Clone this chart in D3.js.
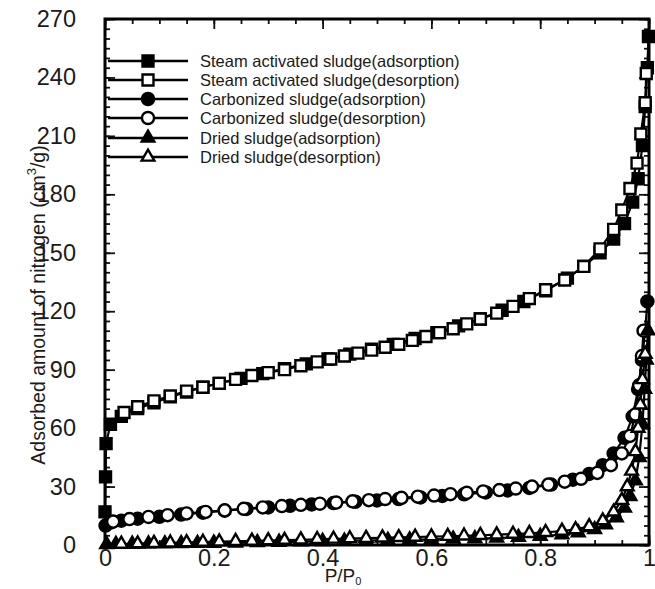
<!DOCTYPE html>
<html>
<head>
<meta charset="utf-8">
<script src="https://cdn.jsdelivr.net/npm/d3@7"></script>
<style>
  html, body { margin: 0; padding: 0; background: #fff; }
  svg { display: block; }
  text { font-family: "Liberation Sans", Arial, sans-serif; fill: #1a1a1a; }
</style>
</head>
<body>
<svg id="chart" width="655" height="589"></svg>
<script>
// Nitrogen adsorption/desorption isotherms, P/P0 vs adsorbed amount (cm3/g)
const steamAds = [[0.0,17],[0.001,35],[0.002,52],[0.01,62],[0.03,66],[0.06,70],[0.09,73],[0.12,76],[0.15,78.5],[0.18,81],[0.21,83],[0.25,85.5],[0.29,88],[0.33,90.5],[0.37,93],[0.41,95.5],[0.45,98],[0.49,100.5],[0.53,103],[0.57,106],[0.61,109],[0.65,112.5],[0.69,116],[0.73,120.5],[0.77,125],[0.81,130.5],[0.85,137],[0.88,143],[0.91,150],[0.935,157],[0.955,165],[0.97,176],[0.98,188],[0.988,205],[0.993,225],[0.997,245],[0.999,261]];
const steamDes = [[0.995,242],[0.993,227],[0.985,211],[0.978,196],[0.965,183],[0.95,172],[0.935,162],[0.91,152],[0.88,143],[0.845,136],[0.81,131],[0.78,126.5],[0.75,122.5],[0.72,119],[0.69,116],[0.665,113.5],[0.64,111],[0.615,109],[0.59,107],[0.565,105],[0.54,103],[0.515,101.5],[0.49,100],[0.465,98.5],[0.44,97],[0.415,95.5],[0.39,94],[0.36,92],[0.33,90],[0.3,88.5],[0.27,87],[0.24,85],[0.21,83],[0.18,81],[0.15,79],[0.12,76.5],[0.09,74],[0.06,71],[0.035,68]];
const carbAds = [[0.001,10],[0.01,11.5],[0.03,12.5],[0.06,13.5],[0.1,14.5],[0.14,15.6],[0.18,16.6],[0.22,17.6],[0.26,18.5],[0.3,19.3],[0.34,20.1],[0.38,20.8],[0.42,21.5],[0.46,22.2],[0.5,22.9],[0.54,23.6],[0.58,24.4],[0.62,25.2],[0.66,26],[0.7,27],[0.74,28],[0.78,29.3],[0.82,31],[0.86,33.5],[0.89,36.5],[0.915,41],[0.935,47],[0.955,55],[0.97,66],[0.98,80],[0.987,95],[0.993,110],[0.997,125]];
const carbDes = [[0.99,110],[0.987,97],[0.982,82],[0.975,67],[0.965,56],[0.95,47],[0.93,41],[0.905,37],[0.875,34],[0.845,32.5],[0.815,31],[0.785,30],[0.755,29],[0.725,28.2],[0.695,27.5],[0.665,26.8],[0.635,26.1],[0.605,25.4],[0.575,24.8],[0.545,24.2],[0.515,23.6],[0.485,23],[0.455,22.4],[0.425,21.8],[0.395,21.2],[0.36,20.6],[0.325,20],[0.29,19.3],[0.255,18.6],[0.22,17.8],[0.185,17],[0.15,16.2],[0.115,15.3],[0.08,14.4],[0.045,13.3],[0.015,12]];
const driedAds = [[0.003,0.3],[0.02,0.4],[0.05,0.5],[0.08,0.6],[0.11,0.7],[0.14,0.8],[0.17,0.9],[0.2,1.0],[0.24,1.1],[0.28,1.3],[0.32,1.5],[0.36,1.7],[0.4,1.9],[0.44,2.1],[0.48,2.3],[0.52,2.5],[0.56,2.7],[0.6,2.9],[0.64,3.1],[0.68,3.3],[0.72,3.6],[0.76,4.0],[0.8,4.5],[0.84,5.3],[0.87,6.3],[0.9,8],[0.92,10.5],[0.94,14],[0.955,19],[0.965,25],[0.975,33],[0.982,45],[0.988,62],[0.992,80],[0.995,95],[0.998,110]];
const driedDes = [[0.993,98],[0.988,85],[0.984,72],[0.98,60],[0.975,48],[0.968,38],[0.96,30],[0.95,23],[0.935,17],[0.915,12.5],[0.89,9.5],[0.865,8],[0.84,7.2],[0.81,6.5],[0.78,6],[0.75,5.6],[0.72,5.3],[0.69,5.0],[0.66,4.7],[0.63,4.5],[0.6,4.3],[0.57,4.1],[0.54,3.9],[0.51,3.7],[0.48,3.5],[0.45,3.3],[0.42,3.1],[0.39,2.9],[0.36,2.7],[0.33,2.5],[0.3,2.3],[0.27,2.1],[0.24,1.9],[0.21,1.7],[0.18,1.5],[0.15,1.3],[0.12,1.1],[0.09,0.9],[0.06,0.7],[0.03,0.5]];

const seriesNames = ["Steam activated sludge(adsorption)","Steam activated sludge(desorption)","Carbonized sludge(adsorption)","Carbonized sludge(desorption)","Dried sludge(adsorption)","Dried sludge(desorption)"];
const xTickValues = [0, 0.2, 0.4, 0.6, 0.8, 1];
const xTickLabels = ["0", "0.2", "0.4", "0.6", "0.8", "1"];
const yTickValues = [0, 30, 60, 90, 120, 150, 180, 210, 240, 270];

const series = [
  { name: seriesNames[0], data: steamAds, shape: d3.symbolSquare, fill: "#000", size: 120 },
  { name: seriesNames[1], data: steamDes, shape: d3.symbolSquare, fill: "#fff", size: 120 },
  { name: seriesNames[2], data: carbAds, shape: d3.symbolCircle, fill: "#000", size: 115 },
  { name: seriesNames[3], data: carbDes, shape: d3.symbolCircle, fill: "#fff", size: 115 },
  { name: seriesNames[4], data: driedAds, shape: d3.symbolTriangle, fill: "#000", size: 70 },
  { name: seriesNames[5], data: driedDes, shape: d3.symbolTriangle, fill: "#fff", size: 70 }
];

const svg = d3.select("#chart");
const L = 105, R = 649, T = 19, B = 545;
const x = d3.scaleLinear().domain([0, 1]).range([L, R]);
const y = d3.scaleLinear().domain([0, 270]).range([B, T]);

// axes: major and minor ticks point inward on all four sides
const xMinor = d3.range(0, 1.0001, 0.05).map(v => +v.toFixed(2));
const yMinor = d3.range(0, 271, 5);

function styleAxis(g) {
  g.select(".domain").remove();
  g.selectAll(".tick line").attr("stroke", "#111").attr("stroke-width", 1.8);
}

svg.append("g").attr("transform", `translate(0,${B})`)
  .call(d3.axisBottom(x).tickValues(xMinor).tickSize(-5).tickFormat(""))
  .call(styleAxis);
const xb = svg.append("g").attr("transform", `translate(0,${B})`)
  .call(d3.axisBottom(x).tickValues(xTickValues).tickSize(-10).tickPadding(4)
    .tickFormat((d, i) => xTickLabels[i]))
  .call(styleAxis);
xb.selectAll("text").attr("font-size", 23.5).attr("dy", "0.71em");

svg.append("g").attr("transform", `translate(0,${T})`)
  .call(d3.axisTop(x).tickValues(xMinor).tickSize(-5).tickFormat(""))
  .call(styleAxis);
svg.append("g").attr("transform", `translate(0,${T})`)
  .call(d3.axisTop(x).tickValues(xTickValues).tickSize(-10).tickFormat(""))
  .call(styleAxis);

svg.append("g").attr("transform", `translate(${L},0)`)
  .call(d3.axisLeft(y).tickValues(yMinor).tickSize(-5).tickFormat(""))
  .call(styleAxis);
const yl = svg.append("g").attr("transform", `translate(${L},0)`)
  .call(d3.axisLeft(y).tickValues(yTickValues).tickSize(-10).tickPadding(29).tickFormat(d3.format("d")))
  .call(styleAxis);
yl.selectAll("text").attr("font-size", 23.5);

svg.append("g").attr("transform", `translate(${R},0)`)
  .call(d3.axisRight(y).tickValues(yMinor).tickSize(-5).tickFormat(""))
  .call(styleAxis);
svg.append("g").attr("transform", `translate(${R},0)`)
  .call(d3.axisRight(y).tickValues(yTickValues).tickSize(-10).tickFormat(""))
  .call(styleAxis);

// plot frame
svg.append("rect").attr("x", L).attr("y", T).attr("width", R - L).attr("height", B - T)
  .attr("fill", "none").attr("stroke", "#000").attr("stroke-width", 3);

// isotherm lines and markers
const line = d3.line().x(d => x(d[0])).y(d => y(d[1]));
series.forEach(s => {
  const g = svg.append("g");
  g.append("path").attr("d", line(s.data)).attr("fill", "none")
    .attr("stroke", "#000").attr("stroke-width", 2.2);
  g.selectAll("path.m").data(s.data).join("path").attr("class", "m")
    .attr("transform", d => `translate(${x(d[0])},${y(d[1])})`)
    .attr("d", d3.symbol().type(s.shape).size(s.size))
    .attr("fill", s.fill).attr("stroke", "#000").attr("stroke-width", 2.4);
});

// legend
const legendY = [61, 80, 99, 118, 138, 157];
series.forEach((s, i) => {
  const g = svg.append("g").attr("transform", `translate(0,${legendY[i]})`);
  g.append("line").attr("x1", 108).attr("x2", 188).attr("y1", 0).attr("y2", 0)
    .attr("stroke", "#000").attr("stroke-width", 2.5);
  g.append("path").attr("transform", "translate(148,0)")
    .attr("d", d3.symbol().type(s.shape).size(s.size))
    .attr("fill", s.fill).attr("stroke", "#000").attr("stroke-width", 2.4);
  g.append("text").attr("x", 200).attr("y", 0).attr("dy", "0.35em")
    .attr("font-size", 16.5).text(s.name);
});

// axis titles
const xt = svg.append("text").attr("x", 343).attr("y", 582).attr("text-anchor", "middle")
  .attr("font-size", 19);
xt.append("tspan").text("P/P");
xt.append("tspan").attr("font-size", 11).attr("dy", 3).text("0");

const yt = svg.append("text").attr("transform", "translate(45,305) rotate(-90)")
  .attr("text-anchor", "middle").attr("font-size", 19.5);
yt.append("tspan").text("Adsorbed amount of nitrogen (cm");
yt.append("tspan").attr("font-size", 13).attr("dy", -9).text("3");
yt.append("tspan").attr("dy", 9).text("/g)");
</script>
</body>
</html>
